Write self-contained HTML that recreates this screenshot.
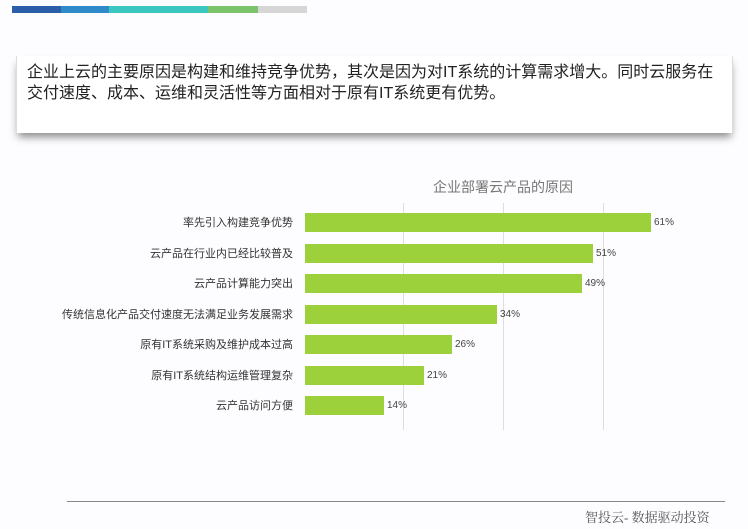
<!DOCTYPE html>
<html><head><meta charset="utf-8"><style>
body{margin:0;width:748px;height:529px;background:#fdfcfe;position:relative;overflow:hidden;font-family:"Liberation Sans","Noto Sans CJK SC",sans-serif}
.s{position:absolute;top:6px;height:7px}
.box{position:absolute;left:16px;top:56px;width:715px;height:77px;background:#fff;box-shadow:0 6px 8px -2px rgba(0,0,0,0.45);border-left:1px solid #ddd;border-right:1px solid #ddd}
.box div{position:absolute;left:10px;font-size:16px;color:#222;white-space:nowrap;line-height:20px}
.g{position:absolute;top:203px;height:227px;width:1px;background:#ddd}
.b{position:absolute;left:305px;height:19px;background:#9cd13c}
.l{position:absolute;right:455px;font-size:11px;color:#333;white-space:nowrap;line-height:14px}
.v{position:absolute;font-size:10px;color:#444;line-height:14px}
</style></head><body>
<div class="s" style="left:12px;width:49px;background:#2a5ea8"></div>
<div class="s" style="left:61px;width:48px;background:#2e8ac8"></div>
<div class="s" style="left:109px;width:99px;background:#3cc6c0"></div>
<div class="s" style="left:208px;width:50px;background:#7cc36c"></div>
<div class="s" style="left:258px;width:49px;background:#d6d6d6"></div>
<div class="box"><div style="top:7px">企业上云的主要原因是构建和维持竞争优势，其次是因为对IT系统的计算需求增大。同时云服务在</div><div style="top:28px">交付速度、成本、运维和灵活性等方面相对于原有IT系统更有优势。</div></div>
<div style="position:absolute;left:403px;width:200px;text-align:center;top:177px;font-size:14px;color:#777">企业部署云产品的原因</div>
<div class="g" style="left:403px"></div><div class="g" style="left:503px"></div><div class="g" style="left:603px"></div>
<div class="b" style="top:213px;width:346px"></div><div class="v" style="left:654px;top:216px">61%</div><div class="l" style="top:216px">率先引入构建竞争优势</div>
<div class="b" style="top:244px;width:288px"></div><div class="v" style="left:596px;top:247px">51%</div><div class="l" style="top:247px">云产品在行业内已经比较普及</div>
<div class="b" style="top:274px;width:277px"></div><div class="v" style="left:585px;top:277px">49%</div><div class="l" style="top:277px">云产品计算能力突出</div>
<div class="b" style="top:305px;width:192px"></div><div class="v" style="left:500px;top:308px">34%</div><div class="l" style="top:308px">传统信息化产品交付速度无法满足业务发展需求</div>
<div class="b" style="top:335px;width:147px"></div><div class="v" style="left:455px;top:338px">26%</div><div class="l" style="top:338px">原有IT系统采购及维护成本过高</div>
<div class="b" style="top:366px;width:119px"></div><div class="v" style="left:427px;top:369px">21%</div><div class="l" style="top:369px">原有IT系统结构运维管理复杂</div>
<div class="b" style="top:396px;width:79px"></div><div class="v" style="left:387px;top:399px">14%</div><div class="l" style="top:399px">云产品访问方便</div>
<div style="position:absolute;left:67px;top:501px;width:658px;height:1px;background:#888"></div>
<div style="position:absolute;left:585px;top:507px;font-size:13px;color:#555;font-family:'Liberation Serif','Noto Serif CJK SC',serif;white-space:nowrap">智投云- 数据驱动投资</div>
</body></html>
